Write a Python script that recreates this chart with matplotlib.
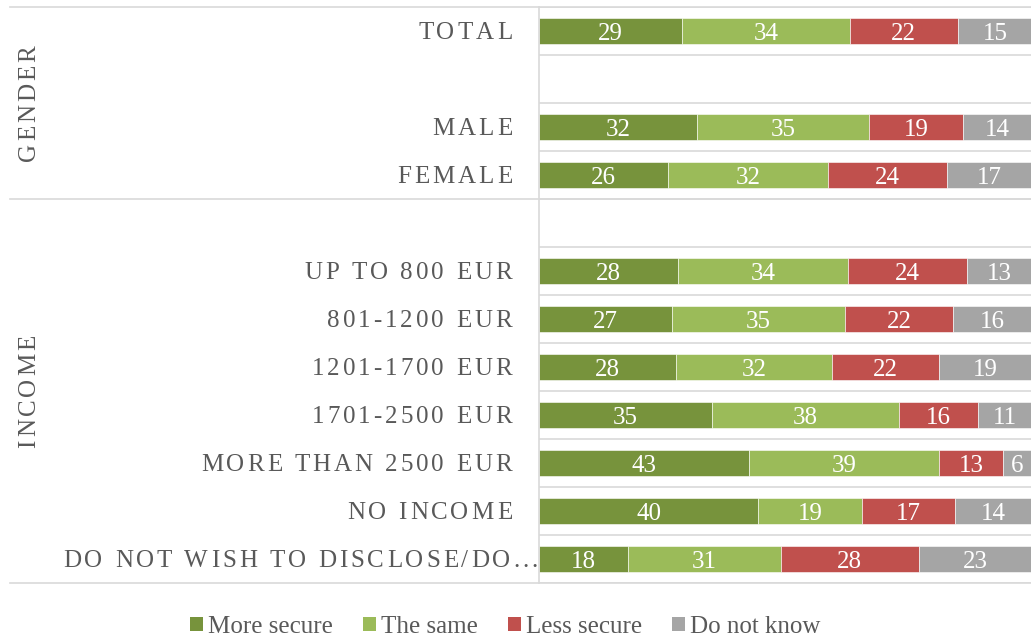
import matplotlib
matplotlib.use("Agg")
import matplotlib.pyplot as plt
import numpy as np
from matplotlib.font_manager import FontProperties, findfont
from matplotlib.ft2font import FT2Font
from matplotlib.lines import Line2D
from matplotlib.patches import Patch

# ---------------------------------------------------------------------------
# data (blank strings are the empty spacer rows of the original chart)

categories = [
    "TOTAL", "", "MALE", "FEMALE", "",
    "UP TO 800 EUR", "801-1200 EUR", "1201-1700 EUR", "1701-2500 EUR",
    "MORE THAN 2500 EUR", "NO INCOME", "DO NOT WISH TO DISCLOSE/DO...",
]
more_secure = [29, 0, 32, 26, 0, 28, 27, 28, 35, 43, 40, 18]
the_same    = [34, 0, 35, 32, 0, 34, 35, 32, 38, 39, 19, 31]
less_secure = [22, 0, 19, 24, 0, 24, 22, 22, 16, 13, 17, 28]
do_not_know = [15, 0, 14, 17, 0, 13, 16, 19, 11,  6, 14, 23]

series_names = ["More secure", "The same", "Less secure", "Do not know"]
groups = [("GENDER", 0, 3), ("INCOME", 4, 11)]   # (label, first row, last row)

# ---------------------------------------------------------------------------

COLORS     = ["#77933C", "#9BBB59", "#C0504D", "#A5A5A5"]
TEXT_COLOR = "#595959"
GRID_COLOR = "#D9D9D9"
FONT       = "Liberation Serif"
FS         = 18.0
SPACING    = 2.15         # extra letter spacing, points

plt.rcParams["font.family"] = [FONT, "DejaVu Serif"]
PROP = FontProperties(family=FONT, size=FS)

W, H = 1031, 637
fig = plt.figure(figsize=(W / 100, H / 100), dpi=100)
ax = fig.add_axes([539 / W, 1 - 583 / H, 1 - 538 / W, (583 - 7) / H])

n = len(categories)
rows = np.arange(n)
data = np.array([more_secure, the_same, less_secure, do_not_know], dtype=float)

# 100 % stacked: each row is scaled to its own total
totals = data.sum(axis=0)
totals[totals == 0] = 1
shares = data / totals * 100

left = np.zeros(n)
for vals, shr, color in zip(data, shares, COLORS):
    ax.barh(rows, shr, left=left, height=0.55, color=color,
            edgecolor="white", linewidth=0.4, zorder=2)
    for r, v, s, l in zip(rows, vals, shr, left):
        if v > 0:
            ax.text(l + s / 2, r, f"{v:.0f}", ha="center", va="center_baseline",
                    color="white", fontproperties=PROP, zorder=3)
    left += shr

ax.set_xlim(0, 100)
ax.set_ylim(n - 0.5, -0.5)
ax.set_xticks([])
ax.set_yticks([])
for side in ("top", "right", "bottom"):
    ax.spines[side].set_visible(False)
ax.spines["left"].set_color(GRID_COLOR)
ax.spines["left"].set_linewidth(1.2)

# row boundaries inside the plot area
for b in np.arange(-0.5, n, 1.0):
    ax.axhline(b, color=GRID_COLOR, linewidth=1.2, zorder=1)

# group separators run across the label area too
px_per_row = (583 - 7) / n
for b in [7, 7 + px_per_row * 4, 583]:
    y = 1 - b / H
    fig.add_artist(Line2D([10 / W, 1], [y, y], color=GRID_COLOR,
                          linewidth=1.2, transform=fig.transFigure))


# ── letter-spaced text helper ──────────────────────────────────────────────
_font = FT2Font(findfont(PROP))
_font.set_size(FS, 72)


def advances(s):
    return [_font.load_char(ord(c)).linearHoriAdvance / 65536 for c in s]


def spaced_width(s):
    return sum(advances(s)) + SPACING * (len(s) - 1)


CAP = 0.662 * FS


def spaced_label(s, xy, start, rotation=0, shift=0.0):
    """Draw s char-by-char, `start` points along the baseline from xy."""
    pos = start
    for c, a in zip(s, advances(s)):
        if rotation == 0:
            off = (pos, -CAP / 2)
        else:
            off = (shift + CAP / 2, pos)
        ax.annotate(c, xy=xy, xycoords=ax.get_yaxis_transform(), xytext=off,
                    textcoords="offset points", ha="left", va="baseline",
                    rotation=rotation, rotation_mode="anchor",
                    color=TEXT_COLOR, fontproperties=PROP,
                    annotation_clip=False)
        pos += a + SPACING


pt = 72 / 100   # points per pixel
for r, cat in enumerate(categories):
    if not cat:
        continue
    right_px = 538 if cat.endswith("...") else 512
    end = -(539 - right_px) * pt
    spaced_label(cat, (0, r), end - spaced_width(cat))

for label, r0, r1 in groups:
    mid = (r0 + r1) / 2
    spaced_label(label, (0, mid), -spaced_width(label) / 2, rotation=90,
                 shift=-(539 - 27) * pt)

handles = [Patch(facecolor=c, edgecolor="none") for c in COLORS]
fig.legend(handles, series_names, loc="center", ncol=4, frameon=False,
           bbox_to_anchor=(505 / W, 1 - 627 / H), prop=PROP,
           labelcolor=TEXT_COLOR, handlelength=0.52, handleheight=0.52,
           handletextpad=0.2, columnspacing=1.2)

fig.savefig("out.png", dpi=100)
